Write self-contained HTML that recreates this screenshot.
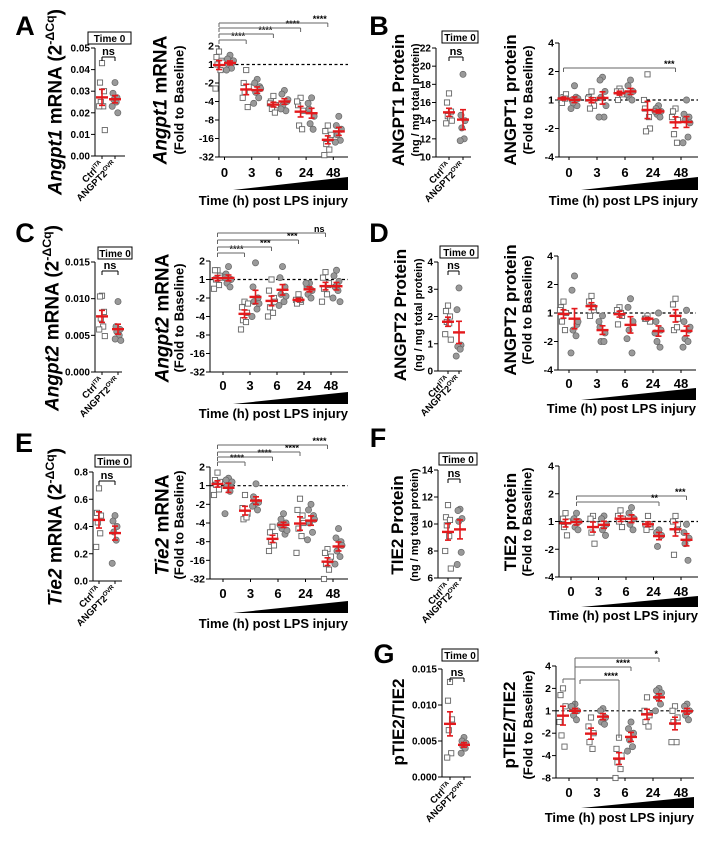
<!DOCTYPE html>
<html><head><meta charset="utf-8"><style>
html,body{margin:0;padding:0;background:#fff;}
svg{display:block;font-family:"Liberation Sans",Arial,sans-serif;font-weight:bold;}
</style></head><body>
<svg id="fig" width="702" height="843" viewBox="0 0 702 843" xmlns="http://www.w3.org/2000/svg">
<rect width="702" height="843" fill="#fff"/>
</svg>
<script>
// ---------- DATA ----------
const timeCats = ['0','3','6','24','48'];
const foldTicksA = [2,1,-2,-4,-8,-16,-32];
const foldTicksB = [4,2,1,-2,-4];
const foldTicksG = [4,2,1,-2,-4,-8];
const aSmallTicks = ['0.00','0.01','0.02','0.03','0.04','0.05'];
const bSmallTicks = ['10','12','14','16','18','20','22'];
const cSmallTicks = ['0.000','0.005','0.010','0.015'];
const dSmallTicks = ['0','1','2','3','4'];
const eSmallTicks = ['0.0','0.2','0.4','0.6','0.8'];
const fSmallTicks = ['6','8','10','12','14'];
const gSmallTicks = ['0.000','0.005','0.010','0.015'];

const aSmallCtrl = [0.043,0.034,0.030,0.025,0.023,0.023,0.012];
const aSmallOvr  = [0.034,0.029,0.027,0.026,0.025,0.023,0.020];
const bSmallCtrl = [17,16,15,14.5,14.2,13.7,14];
const bSmallOvr  = [19.1,14.6,14,13.2,12,11.8];
const cSmallCtrl = [0.0104,0.0103,0.0082,0.0073,0.0062,0.0058,0.0049];
const cSmallOvr  = [0.0096,0.0062,0.0058,0.0055,0.0050,0.0045,0.0043];
const dSmallCtrl = [2.4,2.2,2.0,1.8,1.75,1.35,1.15];
const dSmallOvr  = [3.05,2.25,0.95,0.9,0.8,0.55];
const eSmallCtrl = [0.68,0.50,0.48,0.43,0.35,0.25];
const eSmallOvr  = [0.48,0.44,0.40,0.36,0.30,0.13];
const fSmallCtrl = [11.4,10.5,10.3,9.9,9.1,8.0,6.7];
const fSmallOvr  = [11.1,11.0,10.4,10.2,7.9,7.0];
const gSmallCtrl = [0.0132,0.0106,0.0080,0.0065,0.0033,0.0027];
const gSmallOvr  = [0.0055,0.0050,0.0047,0.0043,0.0040,0.0033];

// big panels: log2 fold-to-baseline per time point
const aBigCtrl = [[0.7,0.4,0.2,0,-0.3,-1.3,0.1],[-0.3,-1,-1.2,-1.5,-2.3,-1.8],[-1.7,-2,-2.2,-2.4,-2.6,-2.1],[-1.8,-2.2,-2.5,-3.3,-3.5,-2],[-3.3,-3.6,-4,-4.3,-4.6,-4.9,-3.8]];
const aBigOvr  = [[0.5,0.3,0.1,0,-0.2,-0.3,0.2],[-0.8,-1,-1.2,-1.5,-1.8,-2.1,-1.3],[-1.4,-1.6,-2,-2.2,-2.5,-2.4,-1.9],[-1.8,-2.4,-2.8,-3.2,-3.5,-2.1],[-2.8,-3.3,-3.5,-3.8,-4.1,-4.2]];
const bBigCtrl = [[0.1,0,0.2,-0.1,0.05],[0.3,0.1,-0.2,-0.3,0,0.05],[0.4,0.3,0.2,0.0,0.3],[0.9,-0.3,-1.0,-1.1,-0.6,0],[-0.3,-0.4,-0.7,-1.2,-1.5,-0.6]];
const bBigOvr  = [[0.5,0,-0.2,-0.1,0.1,-0.3,0.05],[0.8,0.7,0.3,0.1,-0.6,-0.6,-0.2],[0.7,0.5,0.3,0.1,0,0.2],[-0.2,-0.3,-0.4,-0.5,-0.6,-0.4],[0,-0.5,-0.6,-0.7,-1.3,-1.5,-0.8]];
const cBigCtrl = [[0.5,0.5,0.2,0,-0.3,-0.5,0.1],[-1.2,-1.5,-1.8,-2.2,-2.3,-2.7,-1.3],[0,-0.6,-1.0,-1.5,-1.8,-2.0,-1.2],[-0.8,-1.1,-1.2,-1.3,-1.1],[0.4,0.1,-0.3,-0.5,-0.8,-1.2,-0.2]];
const cBigOvr  = [[0.7,0.3,0,-0.2,-0.4,0.1],[0.9,-0.4,-1,-1.2,-1.6,-2.0,-1.3],[0.7,0.1,-0.4,-0.8,-1.2,-1.4,-0.9],[-0.2,-0.4,-0.6,-0.8,-1.0,-0.2],[0.5,0.2,-0.1,-0.4,-0.6,-1,-1.2,-0.3]];
const dBigCtrl = [[0.4,0.2,0,-0.3,-0.6,0.1],[0.6,0.4,0.1,-0.1,0.2],[0.2,0.1,-0.1,-0.4,0],[-0.1,-0.2,-0.3,-0.2],[0.5,0.3,-0.2,-0.6,-0.5]];
const dBigOvr  = [[1.3,0.8,-0.4,-0.6,-0.8,-1.4,-0.3],[-0.1,-0.5,-0.7,-1,-1,-0.3],[0.5,0.2,-0.3,-0.6,-1.4,-0.9],[0,-0.3,-0.6,-1,-1.2,-0.7],[0.1,-0.3,-0.6,-0.9,-1,-1.2,-0.5]];
const eBigCtrl = [[0.7,0.3,0.2,0.05,-0.2,-0.5],[-0.5,-1.2,-1.5,-1.8,-1.7],[-2.2,-2.5,-2.7,-3,-3.2,-3.5],[-0.7,-1.3,-1.6,-2.3,-2.7,-3.6,-2],[-3.4,-3.6,-4,-4.2,-4.5,-5,-3.8]];
const eBigOvr  = [[0.4,0.3,0.1,0,-0.3,-1.5,0.2],[0.1,-0.6,-0.9,-1,-1.3,-1.1],[-1.5,-1.8,-2,-2.3,-2.6,-2.1,-2.4],[-1,-1.3,-1.6,-2,-2.5,-2.9,-1.8],[-2.3,-2.8,-3,-3.5,-3.8,-4.2,-3.2]];
const fBigCtrl = [[0.3,0.1,0,-0.2,-0.5],[0.2,0.1,-0.1,-0.4,-0.8],[0.4,0.2,0.1,0,-0.2],[0.2,-0.1,-0.2,-0.3,-0.1],[0.2,0,-0.1,-1.2,-0.3]];
const fBigOvr  = [[0.3,0.1,0,-0.2,-0.3],[0.2,0.1,-0.1,-0.3,-0.5],[0.5,0.3,0.1,-0.1,-0.3],[-0.3,-0.4,-0.5,-0.9],[-0.1,-0.4,-0.6,-0.8,-1.4]];
const gBigCtrl = [[1,0.7,0.2,-1.1,-1.6,-0.5],[-0.3,-0.7,-1,-1.4,-1.7],[-1.2,-1.7,-2,-2.3,-2.6,-3],[0.6,0,-0.2,-0.5,-0.7],[0.2,0,-0.3,-0.5,-1.4,-1.4]];
const gBigOvr  = [[0.3,0.1,0,-0.2,-0.4,0.2],[0.1,0,-0.3,-0.5,-0.6],[-0.5,-0.8,-1,-1.3,-1.6,-1.8],[1,0.9,0.8,0.6,0.3,0],[0.3,0.2,0,-0.2,-0.4]];

// ---------- RENDERING ----------
const NS = 'http://www.w3.org/2000/svg';
const svg = document.getElementById('fig');
function mk(tag, parent){ const e = document.createElementNS(NS, tag); parent.appendChild(e); return e; }
function at(e, o){ for (const k in o) e.setAttribute(k, o[k]); return e; }
function flog(v){ return v > 0 ? Math.log2(v) : -Math.log2(-v); }
function mean(a){ return a.reduce((s,v)=>s+v,0)/a.length; }
function sem(a){ const m = mean(a); return Math.sqrt(a.reduce((s,v)=>s+(v-m)*(v-m),0)/(a.length-1))/Math.sqrt(a.length); }
const jit = [0,-2.5,2.5,-1.5,1.5,-3.5,3.5,0.5];

function line(p, x1,y1,x2,y2, name, extra){
  const l = mk('line', p);
  at(l, {x1:x1,y1:y1,x2:x2,y2:y2,stroke:'#000','stroke-width':1});
  if (extra) at(l, extra);
  
  
  return l;
}
function txt(p, x, y, s, size, anchor, name){
  const t = mk('text', p);
  at(t, {x:x, y:y, 'font-size':size, 'text-anchor':anchor||'middle', fill:'#000'});
  t.textContent = s;
  
  
  return t;
}
function addParts(t, parts, size){
  let raised = false;
  parts.forEach(pt => {
    const ts = mk('tspan', t);
    ts.textContent = pt[0];
    if (pt[1] === 'i') ts.setAttribute('font-style', 'italic');
    if (pt[1] === 'sup') { at(ts, {'font-size': size*0.65, dy: -size*0.4}); raised = true; }
    else if (raised) { ts.setAttribute('dy', size*0.4); raised = false; }
  });
}
function vtitle(p, cx, cy, parts, size, name){
  const bx = cx + size*0.35;
  const t = mk('text', p);
  at(t, {x:bx, y:cy, 'font-size':size, 'text-anchor':'middle', transform:'rotate(-90 '+bx+' '+cy+')'});
  addParts(t, parts, size);
  
  
}
function pointMark(p, x, y, isCtrl){
  let e;
  if (isCtrl) {
    e = mk('rect', p);
    at(e, {x:x-2.6, y:y-2.6, width:5.2, height:5.2, fill:'#fff', stroke:'#666', 'stroke-width':0.9});
    
  } else {
    e = mk('circle', p);
    at(e, {cx:x, cy:y, r:3.1, fill:'#999', stroke:'#666', 'stroke-width':0.7});
    
  }
  
}
function meanMark(p, x, vals, ys, name){
  const m = mean(vals), s = sem(vals);
  const g = mk('g', p);
  
  
  const c = {stroke:'#e3191c','stroke-width':1.6};
  line(g, x, ys(m+s), x, ys(m-s), 'sem-bar', c);
  line(g, x-3, ys(m+s), x+3, ys(m+s), 'sem-cap', c);
  line(g, x-3, ys(m-s), x+3, ys(m-s), 'sem-cap', c);
  line(g, x-6, ys(m), x+6, ys(m), 'mean-bar', {stroke:'#e3191c','stroke-width':2.4});
}
function letter(x, y, s){
  txt(svg, x, y, s, 27, 'middle', 'panel-letter-'+s.toLowerCase());
}
function supLabel(p, x, y, parts, name){
  const t = mk('text', p);
  at(t, {x:x, y:y, 'font-size':9.5, 'text-anchor':'end', transform:'rotate(-45 '+x+' '+y+')'});
  addParts(t, parts, 9.5);
  
  
}

function smallPanel(c){
  const g = mk('g', svg);
  
  
  const mn = Number(c.ticks[0]), mx = Number(c.ticks[c.ticks.length-1]);
  const ys = v => c.bot - (v-mn)/(mx-mn)*(c.bot-c.top);
  line(g, c.ax, c.top, c.ax, c.bot, 'y-axis');
  line(g, c.ax, c.bot, c.right, c.bot, 'x-axis');
  c.ticks.forEach(tk => {
    const y = ys(Number(tk));
    line(g, c.ax-4, y, c.ax, y, 'y-tick');
    txt(g, c.ax-5, y+3.5, tk, 10, 'end', 'y-tick-label');
  });
  const x1 = c.ax + c.c1, x2 = c.ax + c.c2;
  line(g, x1, c.bot, x1, c.bot+3, 'x-tick');
  line(g, x2, c.bot, x2, c.bot+3, 'x-tick');
  c.ctrl.forEach((v,i) => pointMark(g, x1 + jit[i%jit.length]*0.8, ys(v), true));
  c.ovr.forEach((v,i) => pointMark(g, x2 + jit[i%jit.length]*0.8, ys(v), false));
  meanMark(g, x1, c.ctrl, ys, 'ctrl-mean');
  meanMark(g, x2, c.ovr, ys, 'ovr-mean');
  const r = mk('rect', g);
  at(r, {x:c.bx, y:c.by, width:c.bw, height:12, fill:'#fff', stroke:'#000', 'stroke-width':1});
  
  
  txt(g, c.bx + c.bw/2, c.by+10, 'Time 0', 10, 'middle', 'time0-label');
  const by = c.top + 9;
  line(g, x1, by, x2, by, 'ns-bracket');
  line(g, x1, by, x1, by+4, 'ns-bracket-drop');
  line(g, x2, by, x2, by+4, 'ns-bracket-drop');
  txt(g, (x1+x2)/2, by-2, 'ns', 11, 'middle', 'ns-label');
  supLabel(g, x1+2, c.bot+9, [['Ctrl',''],['iTA','sup']], 'ctrl-x-label');
  supLabel(g, x2+2, c.bot+9, [['ANGPT2',''],['OVR','sup']], 'ovr-x-label');
  vtitle(g, c.t1x, c.ty, c.title1, c.t1s, 'y-axis-title');
  if (c.title2) vtitle(g, c.t2x, c.ty, c.title2, c.t2s, 'y-axis-subtitle');
}

function bigPanel(c){
  const g = mk('g', svg);
  
  
  const lt = flog(c.ticks[0]), lb = flog(c.ticks[c.ticks.length-1]);
  const ys = v => c.bot - (v-lb)/(lt-lb)*(c.bot-c.top);
  const colX = (gi, side) => c.ax + c.off + c.step*gi + (side ? c.hg : -c.hg);
  line(g, c.ax, c.top, c.ax, c.bot, 'y-axis');
  line(g, c.ax, c.bot, c.right, c.bot, 'x-axis');
  c.ticks.forEach(tk => {
    const y = ys(flog(tk));
    line(g, c.ax-4, y, c.ax, y, 'y-tick');
    txt(g, c.ax-5, y+3.5, String(tk), 10.5, 'end', 'y-tick-label');
  });
  line(g, c.ax, ys(0), c.right, ys(0), 'baseline-dashed', {'stroke-dasharray':'3,2.5','stroke-width':1.2});
  timeCats.forEach((cat, gi) => {
    const cx = c.ax + c.off + c.step*gi;
    line(g, cx, c.bot, cx, c.bot+3, 'x-tick');
    txt(g, cx, c.labY+5, cat, 13, 'middle', 'x-tick-label');
    c.ctrl[gi].forEach((v,i) => pointMark(g, colX(gi,0) + jit[i%jit.length], ys(v), true));
    c.ovr[gi].forEach((v,i) => pointMark(g, colX(gi,1) + jit[i%jit.length], ys(v), false));
  });
  timeCats.forEach((cat, gi) => {
    meanMark(g, colX(gi,0), c.ctrl[gi], ys, 'ctrl-mean-'+cat+'h');
    meanMark(g, colX(gi,1), c.ovr[gi], ys, 'ovr-mean-'+cat+'h');
  });
  (c.brackets||[]).forEach(b => {
    const x1 = colX(b[0], b[1]) + (b[8]||0), x2 = colX(b[2], b[3]), y = b[4];
    const bc = {stroke:'#666'};
    line(g, x1, y, x2, y, 'significance-bracket', bc);
    line(g, x1, y, x1, y + (b[6]===undefined?4:b[6]), 'bracket-drop', bc);
    line(g, x2, y, x2, y + (b[7]===undefined?4:b[7]), 'bracket-drop', bc);
    if (b[5]) txt(g, x2-1, y-1, b[5], 9, 'end', 'significance-label');
  });
  const w = mk('polygon', g);
  at(w, {points: c.wx1+','+c.wy2+' '+c.right+','+c.wy2+' '+c.right+','+c.wy1, fill:'#000'});
  
  
  txt(g, c.right, c.timeY, 'Time (h) post LPS injury', 13, 'end', 'x-axis-title');
  vtitle(g, c.t1x, c.ty, c.title1, c.t1s, 'y-axis-title');
  vtitle(g, c.t2x, c.ty, [['(Fold to Baseline)','']], 13, 'y-axis-subtitle');
}

letter(25, 35, 'A'); letter(379, 35, 'B'); letter(25, 242, 'C'); letter(379, 242, 'D');
letter(24, 452, 'E'); letter(378, 447, 'F'); letter(384, 663, 'G');

const ng = [['(ng / mg total protein)','']];
smallPanel({id:'a', ax:95, top:48, bot:156, right:125, c1:7, c2:20, ticks:aSmallTicks, ctrl:aSmallCtrl, ovr:aSmallOvr, bx:88, by:32, bw:43,
  t1x:55, ty:102, title1:[['Angpt1','i'],[' mRNA (2',''],['-ΔCq','sup'],[')','']], t1s:19});
smallPanel({id:'b', ax:436, top:48, bot:157, right:471, c1:13, c2:27, ticks:bSmallTicks, ctrl:bSmallCtrl, ovr:bSmallOvr, bx:442, by:31, bw:36,
  t1x:398, t2x:415, ty:100, title1:[['ANGPT1 Protein','']], t1s:17, title2:ng, t2s:11});
smallPanel({id:'c', ax:95, top:262, bot:372, right:122, c1:7, c2:23, ticks:cSmallTicks, ctrl:cSmallCtrl, ovr:cSmallOvr, bx:98, by:247, bw:34,
  t1x:52, ty:318, title1:[['Angpt2','i'],[' mRNA (2',''],['-ΔCq','sup'],[')','']], t1s:19});
smallPanel({id:'d', ax:438, top:262, bot:371, right:462, c1:10, c2:21, ticks:dSmallTicks, ctrl:dSmallCtrl, ovr:dSmallOvr, bx:440, by:246, bw:38,
  t1x:400, t2x:418, ty:315, title1:[['ANGPT2 Protein','']], t1s:17, title2:ng, t2s:11});
smallPanel({id:'e', ax:93, top:472, bot:581, right:122, c1:6, c2:22, ticks:eSmallTicks, ctrl:eSmallCtrl, ovr:eSmallOvr, bx:95, by:455, bw:36,
  t1x:55, ty:527, title1:[['Tie2','i'],[' mRNA (2',''],['-ΔCq','sup'],[')','']], t1s:19});
smallPanel({id:'f', ax:438, top:470, bot:578, right:462, c1:10, c2:22, ticks:fSmallTicks, ctrl:fSmallCtrl, ovr:fSmallOvr, bx:439, by:453, bw:38,
  t1x:397, t2x:414, ty:525, title1:[['TIE2 Protein','']], t1s:17, title2:ng, t2s:11});
smallPanel({id:'g', ax:442, top:669, bot:777, right:471, c1:8, c2:22, ticks:gSmallTicks, ctrl:gSmallCtrl, ovr:gSmallOvr, bx:442, by:649, bw:36,
  t1x:398, ty:722, title1:[['pTIE2/TIE2','']], t1s:17});

bigPanel({id:'a', ax:219, top:46, bot:157, right:348, off:5.5, step:27.2, hg:5.5, ticks:foldTicksA, ctrl:aBigCtrl, ovr:aBigOvr,
  labY:172, wx1:233, wy1:177, wy2:190, timeY:205, t1x:160, t2x:179, ty:100, title1:[['Angpt1','i'],[' mRNA','']], t1s:19,
  brackets:[[0,0,1,0,40,'****'],[0,0,2,0,34,'****'],[0,0,3,0,28,'****'],[0,0,4,0,23,'****']]});
bigPanel({id:'b', ax:559, top:43, bot:157, right:698, off:10, step:28, hg:5.5, ticks:foldTicksB, ctrl:bBigCtrl, ovr:bBigOvr,
  labY:172, wx1:581, wy1:177, wy2:190, timeY:205, t1x:510, t2x:528, ty:100, title1:[['ANGPT1 protein','']], t1s:17,
  brackets:[[0,0,4,0,68,'***']]});
bigPanel({id:'c', ax:210, top:261, bot:372, right:348, off:13, step:27, hg:5.5, ticks:foldTicksA, ctrl:cBigCtrl, ovr:cBigOvr,
  labY:385, wx1:233, wy1:392, wy2:404, timeY:418, t1x:162, t2x:179, ty:318, title1:[['Angpt2','i'],[' mRNA','']], t1s:19,
  brackets:[[0,0,1,0,253,'****'],[0,0,2,0,247,'***'],[0,0,3,0,240,'***'],[0,0,4,0,233,'ns']]});
bigPanel({id:'d', ax:558, top:256, bot:370, right:696, off:11, step:28, hg:5.5, ticks:foldTicksB, ctrl:dBigCtrl, ovr:dBigOvr,
  labY:383, wx1:581, wy1:388, wy2:400, timeY:413, t1x:510, t2x:527, ty:310, title1:[['ANGPT2 protein','']], t1s:17});
bigPanel({id:'e', ax:210, top:467, bot:579, right:348, off:13, step:27.5, hg:5.5, ticks:foldTicksA, ctrl:eBigCtrl, ovr:eBigOvr,
  labY:593, wx1:233, wy1:601, wy2:613, timeY:628, t1x:162, t2x:179, ty:525, title1:[['Tie2','i'],[' mRNA','']], t1s:19,
  brackets:[[0,0,1,0,462,'****'],[0,0,2,0,457,'****'],[0,0,3,0,452,'****'],[0,0,4,0,445,'****']]});
bigPanel({id:'f', ax:559, top:466, bot:577, right:698, off:12, step:27.5, hg:5.5, ticks:foldTicksB, ctrl:fBigCtrl, ovr:fBigOvr,
  labY:591, wx1:581, wy1:596, wy2:607, timeY:620, t1x:510, t2x:527, ty:522, title1:[['TIE2 protein','']], t1s:17,
  brackets:[[0,1,4,1,496,'***'],[0,1,3,1,502,'**']]});
bigPanel({id:'g', ax:556, top:666, bot:778, right:694, off:13, step:28, hg:6, ticks:foldTicksG, ctrl:gBigCtrl, ovr:gBigOvr,
  labY:792, wx1:581, wy1:797, wy2:808, timeY:822, t1x:509, t2x:528, ty:725, title1:[['pTIE2/TIE2','']], t1s:17,
  brackets:[[0,0,0,1,679,'',4,0],[0,1,3,1,658,'*',49,4],[0,1,2,1,667,'****',0,4],[0,1,2,0,680,'****',4,58,5]]});
</script>
</body></html>
